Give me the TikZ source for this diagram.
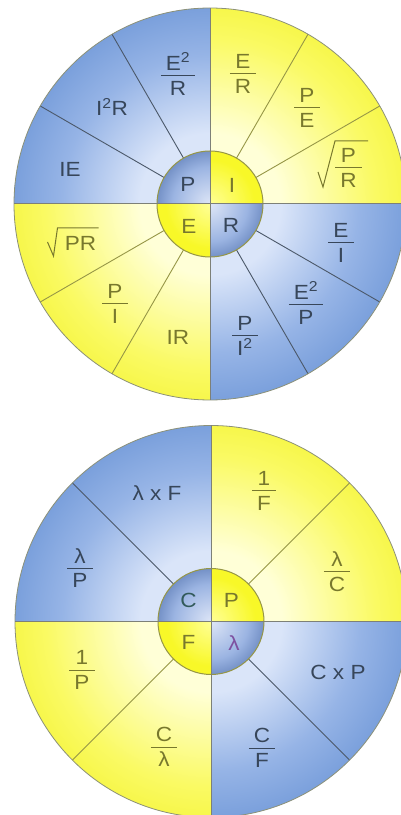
\documentclass[tikz,border=0pt]{standalone}
\usepackage{fontspec}
\setmainfont[FakeStretch=1.1]{Liberation Sans}
\usetikzlibrary{calc}

\definecolor{bOut}{RGB}{75,125,202}
\definecolor{bMid}{RGB}{150,180,230}
\definecolor{bIn}{RGB}{218,229,249}
\definecolor{yOut}{RGB}{238,238,10}
\definecolor{yMid}{RGB}{250,250,100}
\definecolor{yIn}{RGB}{255,255,215}
\definecolor{ballIn}{RGB}{222,230,247}
\definecolor{ballMid}{RGB}{155,180,226}
\definecolor{ballOut}{RGB}{62,96,160}
\definecolor{yballOut}{RGB}{248,248,40}
\definecolor{yballIn}{RGB}{255,255,150}
\definecolor{txtB}{RGB}{55,70,90}
\definecolor{txtY}{RGB}{120,120,45}
\definecolor{txtC}{RGB}{50,90,90}
\definecolor{txtL}{RGB}{125,80,160}
\definecolor{lineB}{RGB}{75,88,105}
\definecolor{lineY}{RGB}{150,150,70}
\definecolor{axisc}{RGB}{125,128,120}
\definecolor{rimc}{RGB}{140,145,120}

% radius R of the shaded circle corresponds to about 35.4bp
\pgfdeclareradialshading{wheelB}{\pgfpoint{0bp}{0bp}}{color(0bp)=(bIn); color(9bp)=(bIn); color(19bp)=(bMid); color(35.4bp)=(bOut); color(50bp)=(bOut)}
\pgfdeclareradialshading{wheelY}{\pgfpoint{0bp}{0bp}}{color(0bp)=(yIn); color(9bp)=(yIn); color(21bp)=(yMid); color(35.4bp)=(yOut); color(50bp)=(yOut)}
\pgfdeclareradialshading{ballB}{\pgfpoint{0bp}{0bp}}{color(0bp)=(ballIn); color(17.7bp)=(ballMid); color(35.4bp)=(ballOut); color(50bp)=(ballOut)}
\pgfdeclareradialshading{ballY}{\pgfpoint{0bp}{0bp}}{color(0bp)=(yballIn); color(21bp)=(yballOut); color(50bp)=(yballOut)}

\newcommand\quadfill[4]{%
  \begin{scope}
    \clip (#1) -- ++(#3:#2) arc[start angle=#3, end angle=#3+90, radius=#2] -- cycle;
    \shade[shading=#4] (#1) circle[radius=#2];
  \end{scope}}

\newcommand\fr[2]{{\renewcommand\arraystretch{0}\setlength\arrayrulewidth{1pt}%
  \begin{tabular}{@{\hspace{5pt}}c@{\hspace{5pt}}}\rule[-4.5pt]{0pt}{19.2pt}#1\\\hline\rule{0pt}{19.2pt}#2\end{tabular}}}

\tikzset{
  lab/.style={font=\fontsize{20.5}{24}\selectfont, inner sep=0pt},
  onB/.style={lab, text=txtB},
  onY/.style={lab, text=txtY},
  spokeB/.style={draw=lineB, line width=0.9pt},
  spokeY/.style={draw=lineY, line width=0.9pt},
  axisline/.style={draw=axisc, line width=1pt},
  rim/.style={draw=rimc, line width=0.8pt},
  innerrim/.style={draw=lineY, line width=1pt},
  radical/.style={line width=1pt, line join=miter}
}

\begin{document}
\begin{tikzpicture}[x=1pt,y=1pt]
\useasboundingbox (0,0) rectangle (401,815);
\clip (0,0) rectangle (401,815);
\fill[white] (0,0) rectangle (401,815);

% ---------- top wheel ----------
\coordinate (c1) at (210,611);
\quadfill{c1}{196pt}{90}{wheelB}
\quadfill{c1}{196pt}{0}{wheelY}
\quadfill{c1}{196pt}{180}{wheelY}
\quadfill{c1}{196pt}{270}{wheelB}
\foreach \a in {30,60,210,240}
  \draw[spokeY] ([shift={(\a:53pt)}]c1) -- ([shift={(\a:196pt)}]c1);
\foreach \a in {120,150,300,330}
  \draw[spokeB] ([shift={(\a:53pt)}]c1) -- ([shift={(\a:196pt)}]c1);
\draw[rim] (c1) circle[radius=196pt];
\quadfill{c1}{53pt}{90}{ballB}
\quadfill{c1}{53pt}{0}{ballY}
\quadfill{c1}{53pt}{180}{ballY}
\quadfill{c1}{53pt}{270}{ballB}
\draw[innerrim] (c1) circle[radius=53pt];
\draw[axisline] ([xshift=-196pt]c1) -- ([xshift=196pt]c1);
\draw[axisline] ([yshift=-196pt]c1) -- ([yshift=196pt]c1);

\node[onB] (t1) at (178,741) {\fr{E\textsuperscript{2}}{R}};
\node[onB] (t2) at (112,708) {I\textsuperscript{2}R};
\node[onB] (t3) at (70,646) {IE};
\node[onY] (t4) at (243,741) {\fr{E}{R}};
\node[onY] (t5) at (307,707) {\fr{P}{E}};
\node[onY] (t6) at (348.5,647) {\fr{P}{R}};
\draw[radical, txtY] ([shift={(-30.5,-4)}]t6.center) -- ([shift={(-25.5,-19)}]t6.center)
  -- ([shift={(-13.5,27)}]t6.center) -- ([shift={(19.5,27)}]t6.center);
\node[onY] (t7) at (80.5,572) {PR};
\draw[radical, txtY] ([shift={(-33,1)}]t7.center) -- ([shift={(-27,-13)}]t7.center)
  -- ([shift={(-23,15)}]t7.center) -- ([shift={(18,15)}]t7.center);
\node[onY] (t8) at (115,511) {\fr{P}{I}};
\node[onY] (t9) at (178,478) {IR};
\node[onB] (t10) at (341,572) {\fr{E}{I}};
\node[onB] (t11) at (306,512) {\fr{E\textsuperscript{2}}{P}};
\node[onB] (t12) at (245,479) {\fr{P}{I\textsuperscript{2}}};
\node[onB] (iP) at (188,630.5) {P};
\node[onY] (iI) at (232,630) {I};
\node[onY] (iE) at (189,588.5) {E};
\node[onB] (iR) at (231,590) {R};

% ---------- bottom wheel ----------
\coordinate (c2) at (211,193.5);
\quadfill{c2}{196pt}{90}{wheelB}
\quadfill{c2}{196pt}{0}{wheelY}
\quadfill{c2}{196pt}{180}{wheelY}
\quadfill{c2}{196pt}{270}{wheelB}
\foreach \a in {45,225}
  \draw[spokeY] ([shift={(\a:53pt)}]c2) -- ([shift={(\a:196pt)}]c2);
\foreach \a in {135,315}
  \draw[spokeB] ([shift={(\a:53pt)}]c2) -- ([shift={(\a:196pt)}]c2);
\draw[rim] (c2) circle[radius=196pt];
\quadfill{c2}{53pt}{90}{ballB}
\quadfill{c2}{53pt}{0}{ballY}
\quadfill{c2}{53pt}{180}{ballY}
\quadfill{c2}{53pt}{270}{ballB}
\draw[innerrim] (c2) circle[radius=53pt];
\draw[axisline] ([xshift=-196pt]c2) -- ([xshift=196pt]c2);
\draw[axisline] ([yshift=-196pt]c2) -- ([yshift=196pt]c2);

\node[onB] (b1) at (157,322) {λ x F};
\node[onY] (b2) at (264,324) {\fr{1}{F}};
\node[onB] (b3) at (80,247) {\fr{λ}{P}};
\node[onY] (b4) at (337,243) {\fr{λ}{C}};
\node[onB] (b5) at (338,143) {C x P};
\node[onY] (b6) at (82,145) {\fr{1}{P}};
\node[onY] (b7) at (164,68) {\fr{C}{λ}};
\node[onB] (b8) at (262,67) {\fr{C}{F}};
\node[lab, text=txtC] (iC) at (188.5,214.5) {C};
\node[onY] (iP2) at (231.5,215) {P};
\node[onY] (iF) at (188.5,172.5) {F};
\node[lab, text=txtL] (iL) at (234,172) {λ};
\end{tikzpicture}
\end{document}
